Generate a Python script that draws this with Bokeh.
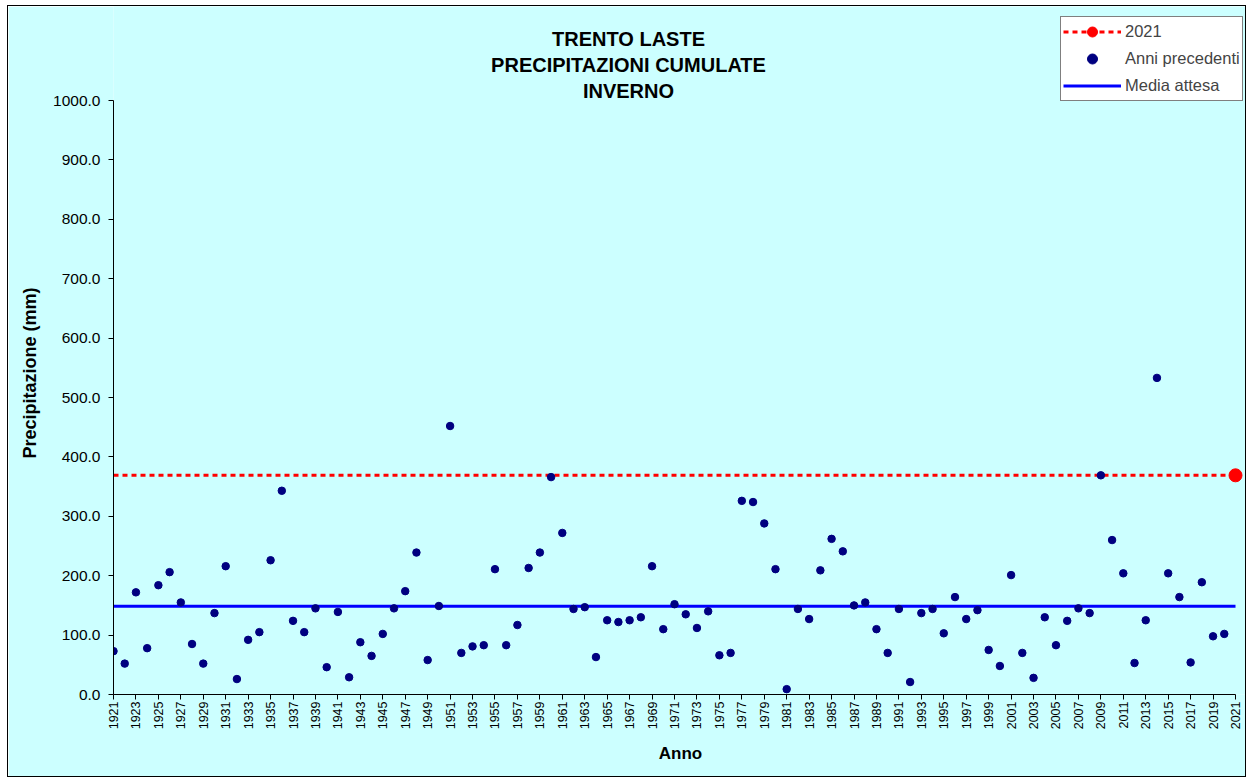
import numpy as np
from bokeh.plotting import figure
from bokeh.models import (Range1d, FixedTicker, PrintfTickFormatter, Label, Legend,
                          LegendItem, Title)
from bokeh.embed import file_html
from bokeh.resources import INLINE

# ---------------- data ----------------
years = list(range(1921, 2021))
values = [
    73, 52, 172, 78, 184, 206, 155, 85, 52, 137,
    216, 26, 92, 105, 226, 343, 124, 105, 145, 46,
    139, 29, 88, 65, 102, 145, 174, 239, 58, 149,
    452, 70, 81, 83, 211, 83, 117, 213, 239, 366,
    272, 144, 147, 63, 125, 122, 125, 130, 216, 110,
    152, 135, 112, 140, 66, 70, 326, 324, 288, 211,
    9, 144, 127, 209, 262, 241, 150, 155, 110, 70,
    144, 21, 137, 144, 103, 164, 127, 142, 75, 48,
    201, 70, 28, 130, 83, 124, 145, 137, 369, 260,
    204, 53, 125, 533, 204, 164, 54, 189, 98, 102,
]
year_2021 = 2021
value_2021 = 369.0
media_attesa = float(np.mean(values))

title_lines = ["TRENTO LASTE", "PRECIPITAZIONI CUMULATE", "INVERNO"]
x_tick_years = list(range(1921, 2022, 2))
y_ticks = list(range(0, 1001, 100))
y_max = 1000

# ---------------- style / layout ----------------
BG = "#ccffff"
NAVY = "#000080"
RED = "#ff0000"
BLUE = "#0000ff"
FONT = "Liberation Sans"

W, H = 1239, 772
ML, MB = 105, 84                  # frame left / bottom offsets inside the canvas
PX_X = 11.22                      # pixels per year
PX_Y = 0.594                      # pixels per mm
frame_w, frame_h = W - ML, H - MB

p = figure(width=W, height=H, output_backend="svg", toolbar_location=None,
           x_range=Range1d(years[0], years[0] + frame_w / PX_X),
           y_range=Range1d(0, frame_h / PX_Y),
           background_fill_color=BG, border_fill_color=BG, title=None,
           min_border_left=ML, min_border_right=0, min_border_top=0, min_border_bottom=MB)
p.styles = {"border": "1px solid black", "margin-left": "7px", "margin-top": "5px"}
p.outline_line_color = None
p.xgrid.visible = False
p.ygrid.visible = False

red_line = p.line([years[0], year_2021], [value_2021, value_2021], line_color=RED,
                  line_width=3, line_dash="5 4")
blue_line = p.line([years[0], year_2021], [media_attesa, media_attesa], line_color=BLUE,
                   line_width=3)
navy_dots = p.scatter(years, values, size=7.5, fill_color=NAVY, line_color=NAVY)
red_dot = p.scatter([year_2021], [value_2021], size=13, fill_color=RED, line_color=RED)

# axes
p.xaxis.bounds = (years[0], year_2021)
p.xaxis.ticker = FixedTicker(ticks=x_tick_years, minor_ticks=[])
p.xaxis.major_label_orientation = np.pi / 2
p.xaxis.major_label_text_font = FONT
p.xaxis.major_label_text_font_size = "12.5px"
p.xaxis.major_label_standoff = 2
p.xaxis.axis_label = "Anno"
p.xaxis.axis_label_text_font = FONT
p.xaxis.axis_label_text_font_style = "bold"
p.xaxis.axis_label_text_font_size = "17px"
p.xaxis.axis_label_standoff = 12

p.yaxis.bounds = (0, y_max)
p.yaxis.ticker = FixedTicker(ticks=y_ticks, minor_ticks=[])
p.yaxis.formatter = PrintfTickFormatter(format="%.1f")
p.yaxis.major_label_text_font = FONT
p.yaxis.major_label_text_font_size = "15.5px"
p.yaxis.major_label_standoff = 8

for ax in (p.xaxis, p.yaxis):
    ax.axis_line_color = "black"
    ax.major_tick_line_color = "black"
    ax.major_tick_out = 5
    ax.major_tick_in = 0
    ax.minor_tick_line_color = None
    ax.major_label_text_color = "black"
    ax.axis_label_text_color = "black"

# y-axis title, placed in the left side panel
p.add_layout(Title(text="Precipitazione (mm)", align="left", vertical_align="middle",
                   offset=236, standoff=20, text_font=FONT, text_font_style="bold",
                   text_font_size="18px", text_color="black"), "left")

# titles (frame-relative screen coordinates)
for i, t in enumerate(title_lines):
    p.add_layout(Label(x=515, y=656 - 26 * i, x_units="screen", y_units="screen", text=t,
                       text_align="center", text_baseline="middle", text_font=FONT,
                       text_font_style="bold", text_font_size="20px", text_color="black"))

legend = Legend(items=[
    LegendItem(label="2021", renderers=[red_line, red_dot]),
    LegendItem(label="Anni precedenti", renderers=[navy_dots]),
    LegendItem(label="Media attesa", renderers=[blue_line]),
], location=(947, 593))
legend.border_line_color = "black"
legend.border_line_width = 1
legend.background_fill_color = "white"
legend.background_fill_alpha = 1.0
legend.padding = 2
legend.spacing = 2
legend.margin = 0
legend.glyph_width = 58
legend.glyph_height = 25
legend.label_height = 25
legend.label_standoff = 4
legend.label_text_font = FONT
legend.label_text_font_size = "16.5px"
p.add_layout(legend)

open("out.html", "w").write(file_html(p, INLINE))
